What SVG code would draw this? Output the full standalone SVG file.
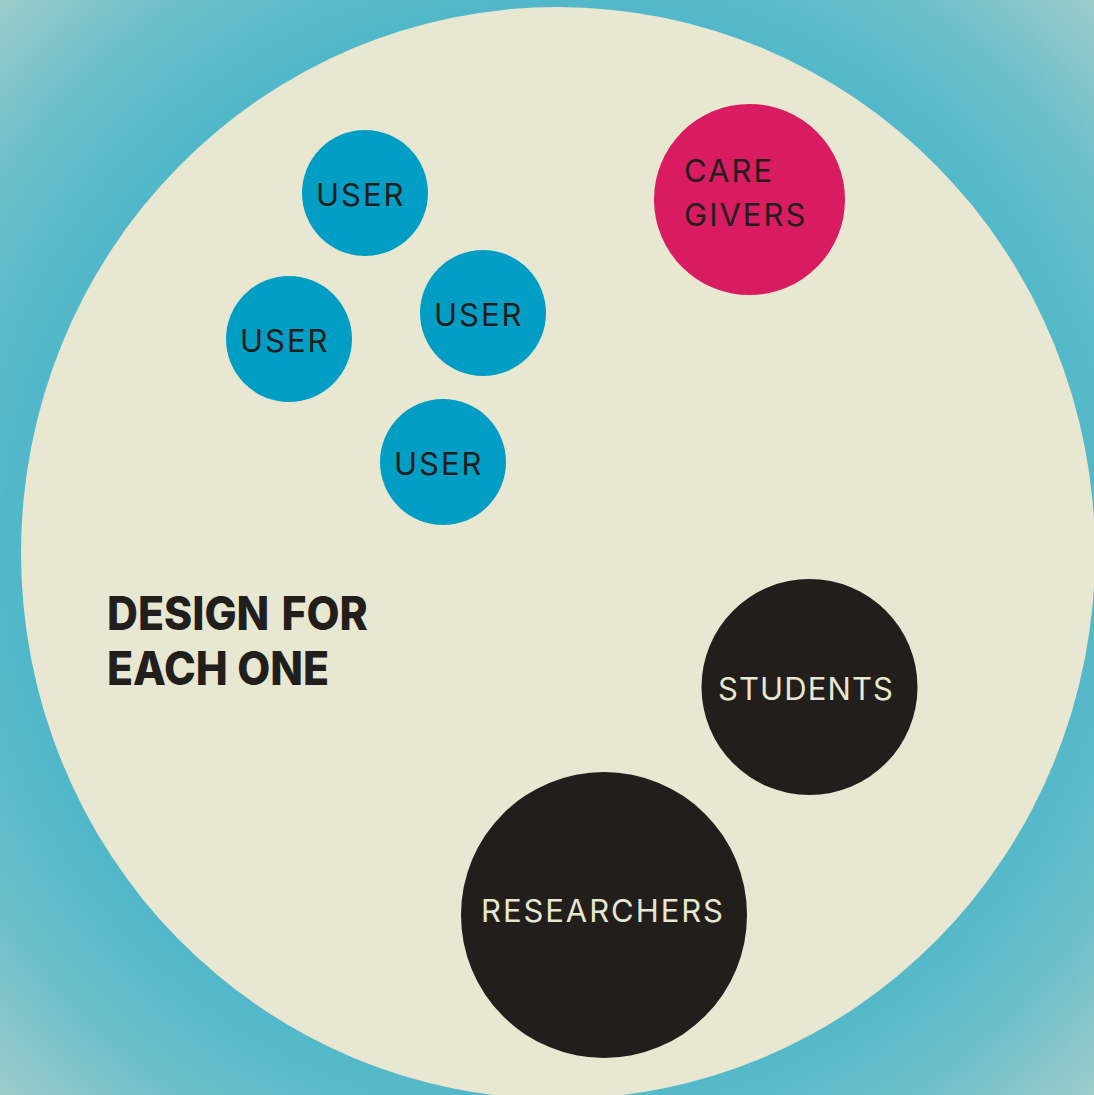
<svg xmlns="http://www.w3.org/2000/svg" width="1094" height="1095" viewBox="0 0 1094 1095">
<defs>
<radialGradient id="bg" cx="547" cy="547" r="775" gradientUnits="userSpaceOnUse">
<stop offset="0" stop-color="#3fb2c7"/>
<stop offset="0.7" stop-color="#52b8c9"/>
<stop offset="0.85" stop-color="#6dbfc9"/>
<stop offset="1" stop-color="#9dcccc"/>
</radialGradient>
<style>
.lbl{font-family:Inter,"Noto Sans","Liberation Sans",sans-serif;font-size:31px;letter-spacing:2px}
.dk{fill:#221e1b}
.lt{fill:#e8e7d1}
.user{fill:#009dc4}
.title{font-family:Inter,"Liberation Sans",sans-serif;font-weight:800;font-size:46px;fill:#221e1b}
</style>
</defs>
<rect width="1094" height="1095" fill="url(#bg)"/>
<ellipse id="field" cx="558" cy="553" rx="537" ry="546" fill="#e8e7d1"/>
<g id="connectors"/>
<g id="user1"><circle class="user" cx="365" cy="193" r="63"/><text class="lbl dk" x="316" y="206">USER</text></g>
<g id="user2"><circle class="user" cx="289" cy="339" r="63"/><text class="lbl dk" x="240" y="352">USER</text></g>
<g id="user3"><circle class="user" cx="483" cy="313" r="63"/><text class="lbl dk" x="434" y="326">USER</text></g>
<g id="user4"><circle class="user" cx="443" cy="462" r="63"/><text class="lbl dk" x="394" y="475">USER</text></g>
<g id="caregivers"><circle cx="749.5" cy="199.5" r="95.5" fill="#d91b61"/><text class="lbl dk" x="684"><tspan x="684" y="182">CARE</tspan><tspan x="684" y="226">GIVERS</tspan></text></g>
<g id="students"><circle class="dk" cx="809.5" cy="687" r="108"/><text class="lbl lt" x="718" y="700" textLength="177" lengthAdjust="spacing">STUDENTS</text></g>
<g id="researchers"><circle class="dk" cx="604" cy="915" r="143"/><text class="lbl lt" x="481" y="922" textLength="244" lengthAdjust="spacing">RESEARCHERS</text></g>
<g id="title" transform="translate(107,0) scale(0.93,1)"><text class="title" x="0" y="630" word-spacing="3">DESIGN FOR</text><text class="title" x="0" y="685">EACH ONE</text></g>
</svg>
